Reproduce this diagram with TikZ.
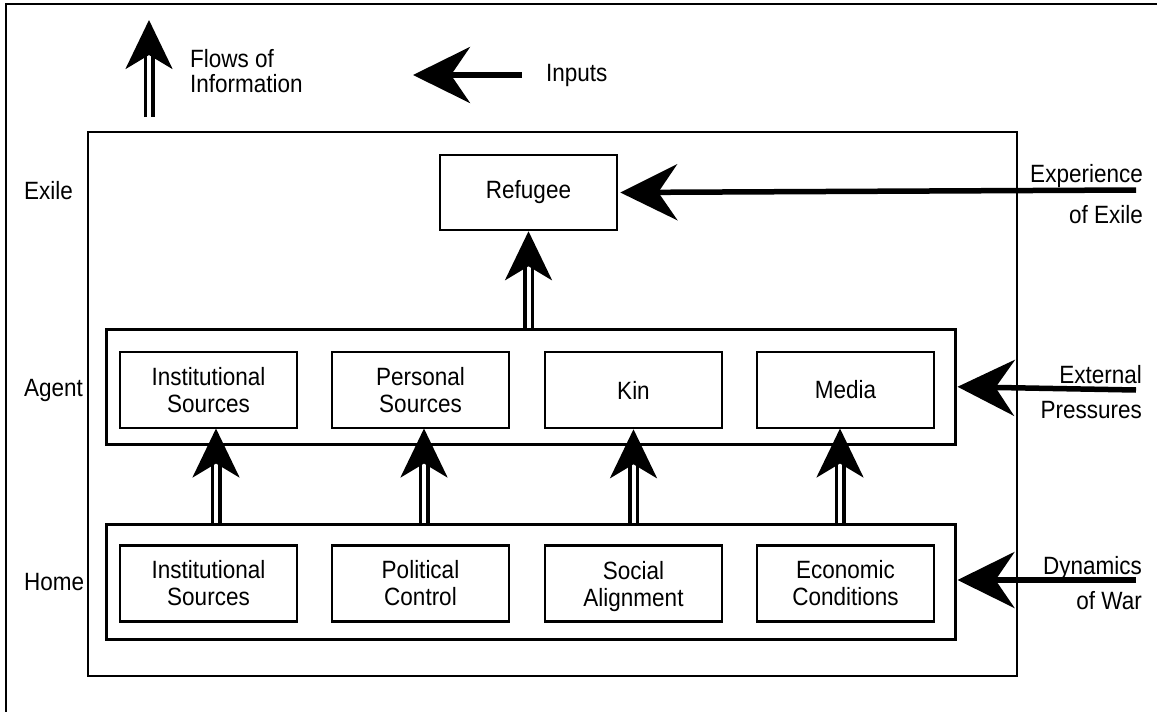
\documentclass[tikz,border=0pt]{standalone}
\usepackage{fontspec}
\setmainfont{Liberation Sans}[FakeStretch=0.9]
\usetikzlibrary{arrows.meta}
\begin{document}
\begin{tikzpicture}[x=1pt,y=-1pt,
  every node/.style={font=\fontsize{25}{27}\selectfont, inner sep=0pt},
  box/.style={draw, line width=2.5pt, minimum width=177pt, minimum height=76pt, align=center},
  frame/.style={draw, line width=2.5pt},
  flow/.style={draw, double, line width=3.5pt, double distance=4pt, -{Stealth[length=49pt,width=47pt,inset=14pt]}},
  input/.style={draw, line width=5.5pt, -{Stealth[length=57pt,width=56pt,inset=19pt]}},
  lbl/.style={anchor=west},
  rlbl/.style={anchor=east, align=right}
]
\useasboundingbox (0,0) rectangle (1157,712);
\draw[line width=2.5pt] (6,712) -- (6,4) -- (1157,4);

% main box
\draw[line width=2pt] (88,132) rectangle (1017,676);
% layer frames
\node[frame, minimum width=849pt, minimum height=115pt, anchor=north west] (agentframe) at (105,328) {};
\node[frame, minimum width=849pt, minimum height=115pt, anchor=north west] (homeframe) at (105,523) {};

% boxes
\node[box, minimum height=75pt] (ref) at (528.5,192.5) {Refugee};
\node[box] (a1) at (208.5,390) {Institutional\\Sources};
\node[box] (a2) at (420.5,390) {Personal\\Sources};
\node[box] (a3) at (633.5,390) {Kin};
\node[box] (a4) at (845.5,390) {Media};
\node[box] (h1) at (208.5,583.5) {Institutional\\Sources};
\node[box] (h2) at (420.5,583.5) {Political\\Control};
\node[box] (h3) at (633.5,583.5) {Social\\\raisebox{0pt}[\height][0pt]{Alignment}};
\node[box] (h4) at (845.5,583.5) {Economic\\Conditions};

% flows
\draw[flow] (agentframe.north -| ref.south) -- (ref.south);
\draw[flow] (homeframe.north -| 216,0) -- (216,428.5);
\draw[flow] (homeframe.north -| 424,0) -- (424,428.5);
\draw[flow] (homeframe.north -| a3.south) -- (a3.south);
\draw[flow] (homeframe.north -| 840,0) -- (840,428.5);

% side labels
\node[lbl] (lexile) at (24,191) {Exile};
\node[lbl] (lagent) at (24,390) {Agent};
\node[lbl] (lhome) at (24,582) {Home};

% inputs
\node[rlbl] (exp) at (1143,194) {Experience\\[14pt]of Exile};
\node[rlbl] (ext) at (1142,392) {External\\[8pt]Pressures};
\node[rlbl] (dyn) at (1142,583) {Dynamics\\[8pt]of War};
\coordinate (expS) at (1136,190);
\coordinate (extS) at (1136,390);
\coordinate (dynS) at (1136,580);
\draw[input, shorten >=2pt] (expS) -- (ref.east);
\draw[input, shorten >=1pt] (extS) -- (agentframe.east);
\draw[input, shorten >=1pt] (dynS) -- (homeframe.east |- dynS);

% legend
\coordinate (fl1) at (149,117);
\coordinate (fl2) at (149,20);
\draw[flow] (fl1) -- (fl2);
\node[anchor=west, align=left, font=\fontsize{25}{25}\selectfont] (flowlbl) at (190,71) {Flows of\\Information};
\coordinate (in1) at (522,75);
\coordinate (in2) at (413,75);
\draw[input] (in1) -- (in2);
\node[anchor=west] (inlbl) at (546,75) {Inputs};
\end{tikzpicture}
\end{document}
